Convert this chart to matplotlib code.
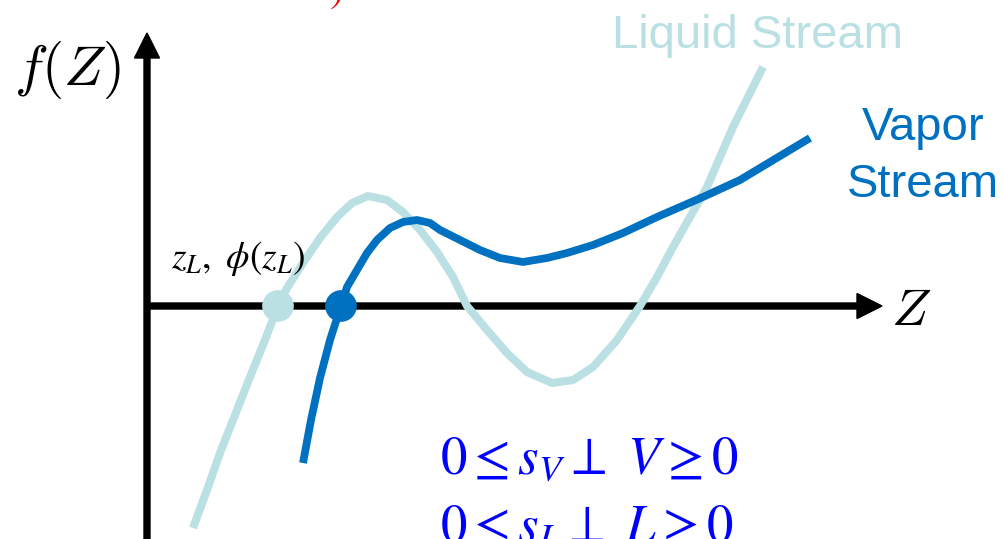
import matplotlib.pyplot as plt
from matplotlib.patches import FancyArrow

# courbes f(Z) des deux phases (unités du schéma, axe Z en f = 0)
z_liquide = [46, 60, 73, 88, 103, 118, 131, 140, 156, 173, 190, 205, 221,
             240, 256, 273, 290, 306, 320, 340, 360, 380, 405, 426, 446,
             470, 493, 510, 526, 543, 560, 586, 616]
f_liquide = [-222, -184, -147, -109, -71, -34, 0, 18, 43, 68, 89, 103, 110,
             106, 94, 76, 54, 29, 0, -24, -47, -66, -77, -74, -61,
             -34, 0, 29, 59, 89, 119, 179, 239]

z_vapeur = [156, 164, 173, 183, 194, 200, 210, 220, 230, 243, 256, 270,
            283, 293, 313, 333, 353, 376, 400, 420, 446, 476, 510, 556,
            593, 663]
f_vapeur = [-157, -114, -72, -34, 0, 19, 36, 53, 66, 78, 84, 86,
            83, 76, 66, 56, 48, 44, 48, 53, 61, 73, 89, 109,
            126, 168]

# racines marquées sur l'axe Z
z_racines = [131, 194]
f_racines = [0, 0]

bleu_clair = "#BAE0E3"
bleu_fonce = "#0070C0"

fig = plt.figure(figsize=(10.04, 5.39), dpi=100)
ax = fig.add_axes([0, 0, 1, 1])
ax.set_xlim(-147, 857)
ax.set_ylim(-233, 306)
ax.axis("off")

# axes avec flèches
ax.add_patch(FancyArrow(0, 0, 735, 0, width=6, head_width=25, head_length=25,
                        length_includes_head=True, color="black", zorder=2))
ax.add_patch(FancyArrow(0, -240, 0, 513, width=6, head_width=25, head_length=25,
                        length_includes_head=True, color="black", zorder=2))

ax.plot(z_liquide, f_liquide, color=bleu_clair, lw=5.8,
        solid_joinstyle="round", solid_capstyle="butt", zorder=3)
ax.plot(z_vapeur, f_vapeur, color=bleu_fonce, lw=5.6,
        solid_joinstyle="round", solid_capstyle="butt", zorder=4)
ax.scatter(z_racines, f_racines, s=520, c=[bleu_clair, bleu_fonce],
           edgecolors="none", zorder=5)

# textes
ax.text(465, 258, "Liquid Stream", color=bleu_clair, fontsize=34,
        family="Liberation Sans", ha="left", va="baseline")
ax.text(776, 166, "Vapor", color=bleu_fonce, fontsize=34,
        family="Liberation Sans", ha="center", va="baseline")
ax.text(776, 109, "Stream", color=bleu_fonce, fontsize=34,
        family="Liberation Sans", ha="center", va="baseline")

ax.text(-133, 221, r"$f(Z)$", fontsize=41, math_fontfamily="cm",
        ha="left", va="baseline")
ax.text(744, -19, r"$Z$", fontsize=38, math_fontfamily="cm",
        ha="left", va="baseline")
ax.text(24, 38, r"$z_L,\ \phi(z_L)$", fontsize=27, math_fontfamily="stix",
        ha="left", va="baseline")

ax.text(293, -169, r"$0 \leq s_V \perp\ V \geq 0$", color="#0000FF",
        fontsize=38, math_fontfamily="stix", ha="left", va="baseline")
ax.text(293, -237, r"$0 \leq s_L \perp\ L \geq 0$", color="#0000FF",
        fontsize=38, math_fontfamily="stix", ha="left", va="baseline")

ax.text(196, 304, r"$)$", color="red", fontsize=30, math_fontfamily="stix",
        ha="right", va="baseline")

fig.savefig("out.png", dpi=100)
